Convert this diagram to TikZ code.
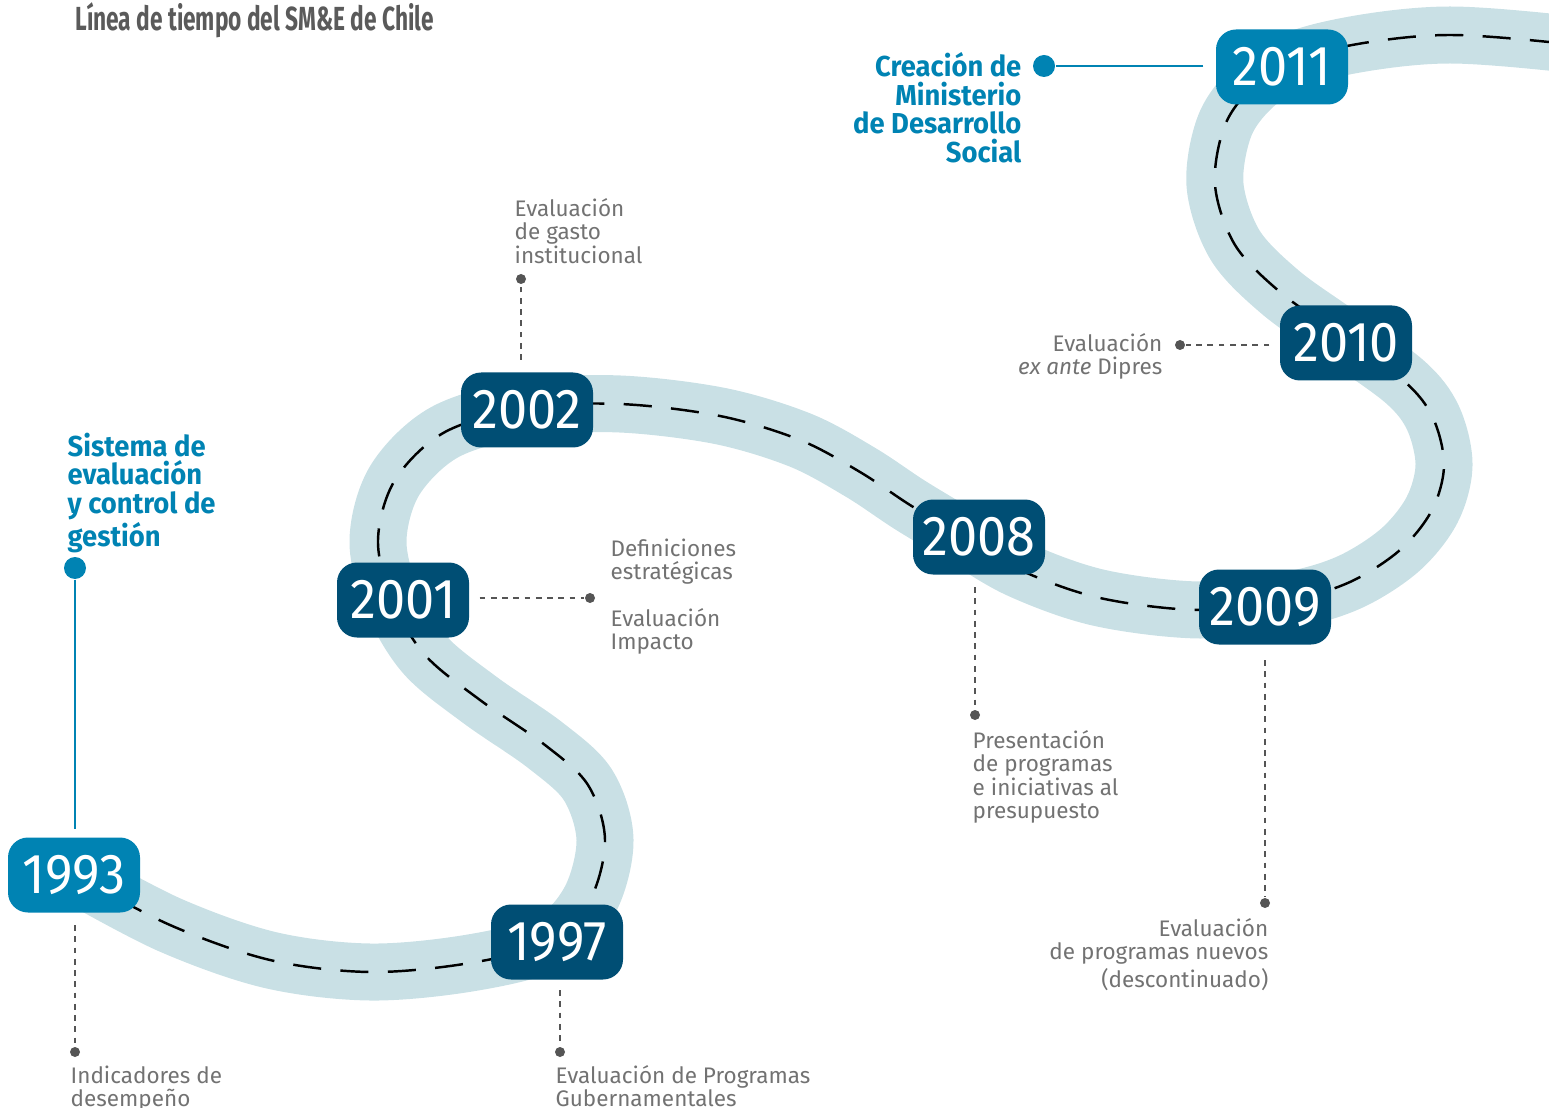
\documentclass[tikz,border=0pt]{standalone}
\usepackage{fontspec}
\setmainfont{Fira Sans}
\newfontfamily\yearfont[FakeStretch=0.93]{Fira Sans}
\newfontfamily\narrowfont[FakeStretch=0.95]{Fira Sans}
\newfontfamily\titlefont[FakeStretch=0.68]{Fira Sans}

\definecolor{roadblue}{HTML}{C9E0E5}
\definecolor{lightyear}{HTML}{0083B3}
\definecolor{darkyear}{HTML}{004E74}
\definecolor{notegray}{HTML}{727272}
\definecolor{dotgray}{HTML}{555555}
\definecolor{titlegray}{HTML}{5A5A5A}

\tikzset{
  year/.style={rectangle, rounded corners=0.2cm, minimum width=1.32cm, minimum height=0.75cm,
    inner sep=0pt, text=white, font=\yearfont\fontsize{16}{16}\selectfont},
  dark/.style={year, fill=darkyear},
  light/.style={year, fill=lightyear},
  note/.style={inner sep=0pt, text=notegray, font=\fontsize{6.4}{6.6}\selectfont},
  milestone/.style={inner sep=0pt, text=lightyear, font=\narrowfont\bfseries\fontsize{8.2}{8.1}\selectfont},
  leader/.style={dotgray, line width=0.55pt, dash pattern=on 1.6pt off 1.6pt},
  pin/.style={circle, fill=dotgray, inner sep=0pt, minimum size=0.1cm},
  bigpin/.style={circle, fill=lightyear, inner sep=0pt, minimum size=0.22cm},
  bluelink/.style={lightyear, line width=0.7pt},
}

\begin{document}
\begin{tikzpicture}[x=0.1mm, y=-0.1mm]
  \useasboundingbox (0,0) rectangle (1549,1108);

  % the road with its centre line
  \draw[black, line width=0.7pt, dash pattern=on 8pt off 5.5pt,
        preaction={draw, solid, roadblue, line width=0.57cm}]
    plot[smooth, tension=0.55] coordinates {
      (75,875) (170,925) (270,960) (370,972) (470,963) (550,942) (590,900)
      (605,840) (588,785) (545,745) (480,700) (425,655) (392,600) (378,540)
      (395,480) (445,432) (527,408) (620,404) (720,416) (800,440) (860,472)
      (910,505) (960,535) (1020,570) (1100,598) (1200,610) (1290,600)
      (1350,582) (1400,550) (1432,510) (1444,465) (1433,418) (1405,382)
      (1340,335) (1280,292) (1235,245) (1215,185) (1225,125) (1255,85)
      (1300,58) (1370,42) (1450,35) (1549,42) (1620,52)};

  \node[anchor=north west, inner sep=0pt, text=titlegray,
        font=\titlefont\bfseries\fontsize{9.5}{9.5}\selectfont] (title) at (75,2)
    {Línea de tiempo del SM\&E de Chile};

  % years
  \draw (74,875) node[light](y1993){1993};
  \draw (557,942) node[dark](y1997){1997};
  \draw (403,600) node[dark](y2001){2001};
  \draw (527,410) node[dark](y2002){2002};
  \draw (979,537) node[dark](y2008){2008};
  \draw (1265,607) node[dark](y2009){2009};
  \draw (1346,343) node[dark](y2010){2010};
  \draw (1282,67) node[light](y2011){2011};

  % pins
  \draw (75,568) node[bigpin](p1993a){};
  \draw (75,1052) node[pin](p1993){};
  \draw (560,1052) node[pin](p1997){};
  \draw (590,598) node[pin](p2001){};
  \draw (521,279) node[pin](p2002){};
  \draw (975,715) node[pin](p2008){};
  \draw (1265,903) node[pin](p2009){};
  \draw (1180,345) node[pin](p2010){};
  \draw (1044,66) node[bigpin](p2011){};

  % leaders
  \draw[bluelink, shorten >=0.08cm] (p1993a) -- (p1993a |- y1993.north);
  \draw[leader, shorten <=0.12cm] (y1993.south -| p1993) -- (p1993);
  \draw[leader, shorten <=0.1cm] (y1997.south -| p1997) -- (p1997);
  \draw[leader, shorten <=0.1cm] (y2001.east |- p2001) -- (p2001);
  \draw[leader, shorten <=0.12cm] (y2002.north -| p2002) -- (p2002);
  \draw[leader, shorten <=0.12cm] (y2008.south -| p2008) -- (p2008);
  \draw[leader, shorten <=0.15cm] (y2009.south -| p2009) -- (p2009);
  \draw[leader, shorten <=0.1cm] (y2010.west |- p2010) -- (p2010);
  \draw[bluelink, shorten <=0.12cm] (y2011.west |- p2011) -- (p2011);

  % texts
  \node[milestone, anchor=north west, align=left] (t1993a) at (67,432)
    {Sistema de\\evaluación\\y control de\\gestión};
  \node[note, anchor=north west, align=left] (t1993) at (70,1065)
    {Indicadores de\\desempeño};
  \node[note, anchor=north west, align=left] (t1997) at (555,1065)
    {Evaluación de Programas\\Gubernamentales};
  \node[note, anchor=north west, align=left] (t2001a) at (610,538)
    {Definiciones\\estratégicas};
  \node[note, anchor=north west, align=left] (t2001b) at (610,608)
    {Evaluación\\Impacto};
  \node[note, anchor=north west, align=left] (t2002) at (514,198)
    {Evaluación\\de gasto\\institucional};
  \node[note, anchor=north west, align=left] (t2008) at (972,730)
    {Presentación\\de programas\\e iniciativas al\\presupuesto};
  \node[note, anchor=north east, align=right] (t2009) at (1269,918)
    {Evaluación\\de programas nuevos\\(descontinuado)};
  \node[note, anchor=north east, align=right] (t2010) at (1163,333)
    {Evaluación\\\textit{ex ante} Dipres};
  \node[milestone, anchor=north east, align=right] (t2011) at (1022,52)
    {Creación de\\Ministerio\\de Desarrollo\\Social};
\end{tikzpicture}
\end{document}
